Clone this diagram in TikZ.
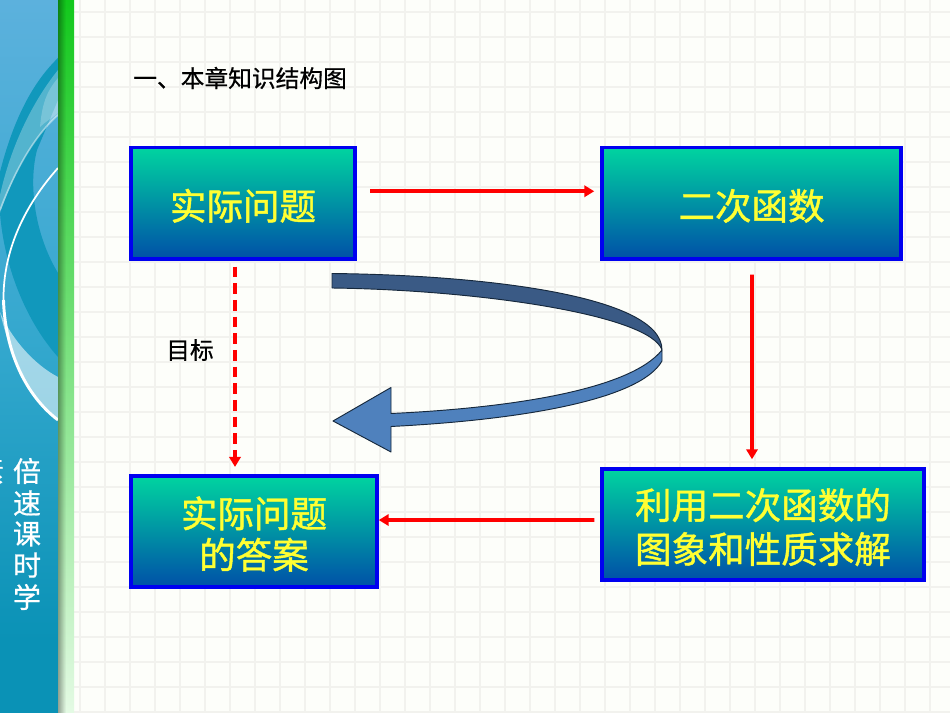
\documentclass[tikz,border=0pt]{standalone}
\usepackage{fontspec}
\setmainfont{Noto Sans CJK SC}
\newfontfamily\heavycjk[FakeBold=1.2]{Noto Sans CJK SC}
\newfontfamily\midcjk[FakeBold=0.6]{Noto Sans CJK SC}
\usetikzlibrary{arrows.meta}
\definecolor{paper}{HTML}{FDFEFA}
\definecolor{gridc}{HTML}{F2F2EE}
\definecolor{paneltop}{HTML}{5CB1DD}
\definecolor{panelmid}{HTML}{34A8CE}
\definecolor{panelbot}{HTML}{0A92B6}
\definecolor{swoosh}{HTML}{1198BC}
\definecolor{boxtop}{HTML}{00D4A0}
\definecolor{boxbot}{HTML}{0050A8}
\definecolor{boxline}{HTML}{0000F0}
\definecolor{boxtext}{HTML}{FFFF33}
\definecolor{ribbondark}{HTML}{3A5A85}
\definecolor{ribbonlight}{HTML}{4F81BD}
\definecolor{ribbonline}{HTML}{16283C}
\newcommand{\lowerline}{\rule{0pt}{27pt}}
\tikzset{
  bigbox/.style={draw=boxline,line width=2.6pt,top color=boxtop,bottom color=boxbot,
    text=boxtext,align=center,font=\heavycjk\fontsize{27.4pt}{31pt}\selectfont,inner sep=0pt,minimum height=83.5pt},
  redarrow/.style={draw=red,line width=2.7pt,-{Triangle[length=7.5pt,width=8.5pt]}},
  reddash/.style={redarrow,dash pattern=on 8pt off 4.5pt},
  ribbon/.style={draw=ribbonline,line width=0.7pt,line join=round},
  sidetext/.style={text=white,font=\midcjk\fontsize{21pt}{21pt}\selectfont,inner sep=0pt},
  plainlabel/.style={text=black,font=\midcjk\fontsize{17.8pt}{20pt}\selectfont,inner sep=0pt},
  gridline/.style={draw=gridc,line width=1pt}
}
\begin{document}
\begin{tikzpicture}[x=0.75pt,y=-0.75pt]
\useasboundingbox (0,0) rectangle (950,713);
\fill[paper] (0,0) rectangle (950,713);
% paper grid
\foreach \gx in {80,105,...,930} \draw[gridline] (\gx,0) -- (\gx,713);
\foreach \gy in {12,37,...,712} \draw[gridline] (74,\gy) -- (950,\gy);
% side panel
\shade[top color=paneltop,bottom color=panelmid] (0,0) rectangle (58,340);
\shade[top color=panelmid,bottom color=panelbot] (0,340) rectangle (58,640);
\fill[panelbot] (0,640) rectangle (58,713);
\fill[swoosh] (58,58) .. controls (30,85) and (12,125) .. (0,172) -- (0,213)
  .. controls (4,265) and (25,320) .. (58,357) -- (58,273)
  .. controls (35,235) and (28,185) .. (37,150) -- (58,100) -- cycle;
\fill[white,opacity=0.28] (58,70) .. controls (30,105) and (10,150) .. (0,195) -- (0,213)
  .. controls (15,170) and (35,135) .. (58,115) -- cycle;
\fill[white,opacity=0.22] (58,78) .. controls (46,92) and (42,105) .. (40,127)
  .. controls (45,122) and (52,118) .. (58,113) -- cycle;
\draw[white,opacity=0.45,line width=1.2pt] (58,115) .. controls (35,135) and (15,170) .. (0,210);
\fill[white,opacity=0.55] (0,312) .. controls (12,340) and (35,365) .. (58,377) -- (58,420)
  .. controls (38,405) and (15,375) .. (0,312) -- cycle;
\draw[white,line width=1.3pt] (58,168) .. controls (25,205) and (3,250) .. (3.5,300);
\draw[white,line width=2.2pt] (3.5,300) .. controls (5,350) and (25,395) .. (58,420);
% green strip
\shade[top color={rgb,255:red,18;green,200;blue,28},middle color={rgb,255:red,96;green,220;blue,104},bottom color={rgb,255:red,228;green,250;blue,228}] (58,0) rectangle (74,713);
\foreach \sx/\so in {58/0.34,59/0.30,60/0.26,61/0.21,62/0.17,63/0.12,64/0.08,65/0.04}
  \fill[black,opacity=\so] (\sx,0) rectangle ({\sx+1},713);
% side text
\node[sidetext] (s0) at (-10,471) {素};
\node[sidetext] (s1) at (27,471) {倍};
\node[sidetext] (s2) at (27,503) {速};
\node[sidetext] (s3) at (27,534) {课};
\node[sidetext] (s4) at (27,565) {时};
\node[sidetext] (s5) at (27,597) {学};
% labels
\node[plainlabel,anchor=west] (title) at (133,78) {一、本章知识结构图};
\node[plainlabel] (goal) at (190,350) {目标};
% boxes
\node[bigbox,minimum width=168pt] (q) at (243,203.25) {\lowerline 实际问题};
\node[bigbox,minimum width=224.25pt] (f) at (751.5,203.25) {\lowerline 二次函数};
\node[bigbox,minimum width=184.5pt,minimum height=83.25pt] (a) at (254,531.5) {\lowerline 实际问题\\的答案};
\node[bigbox,minimum width=241.5pt,minimum height=83.25pt,font=\heavycjk\fontsize{27.4pt}{33pt}\selectfont] (g) at (763,524.5) {\lowerline 利用二次函数的\\图象和性质求解};
% connectors
\draw[redarrow,shorten <=10pt,shorten >=4.5pt] ([yshift=9pt]q.east) -- ([yshift=9pt]f.west);
\draw[redarrow,shorten <=10.5pt,shorten >=6pt] ([xshift=0.4pt]f.south) -- ([xshift=-8.25pt]g.north);
\draw[redarrow,shorten <=4.5pt,shorten >=0pt] ([yshift=3.4pt]g.west) -- ([yshift=8.6pt]a.east);
\draw[reddash,shorten <=4.5pt,shorten >=5.5pt] ([xshift=-6pt]q.south) -- ([xshift=-14.25pt]a.north);
% curved ribbon arrow
\filldraw[ribbon,fill=ribbonlight] (662,350) -- (662,361)
  .. controls (640,400) and (520,420) .. (391,426.5)
  -- (391,452) -- (333,421) -- (391,387.5) -- (391,413.5)
  .. controls (510,408) and (630,390) .. (662,350) -- cycle;
\filldraw[ribbon,fill=ribbondark] (332,273.5)
  .. controls (480,275) and (662,295) .. (662,350)
  .. controls (650,315) and (480,290) .. (332,288) -- cycle;
\end{tikzpicture}
\end{document}
